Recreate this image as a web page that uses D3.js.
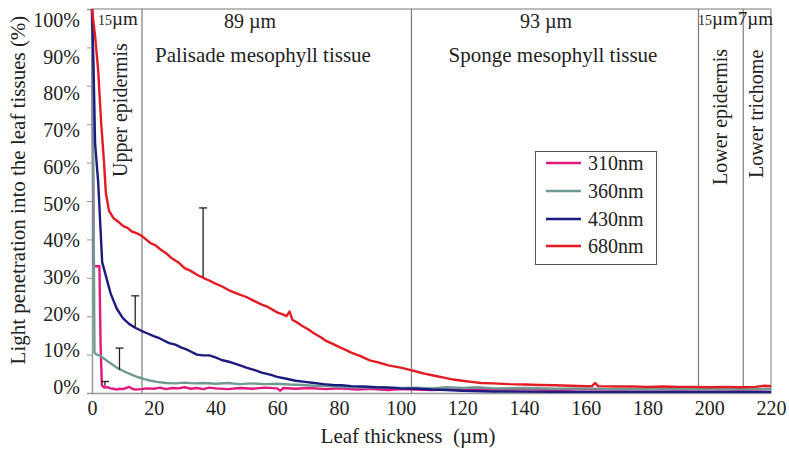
<!DOCTYPE html>
<html><head><meta charset="utf-8">
<script src="https://cdn.jsdelivr.net/npm/d3@7"></script>
<style>
html,body{margin:0;padding:0;background:#fff;}
svg{display:block;}
svg text{font-family:"Liberation Serif","Times New Roman","DejaVu Serif",serif !important;}
</style></head>
<body><svg id="c" width="789" height="451"></svg>
<script>
const xTicks = [0,20,40,60,80,100,120,140,160,180,200,220];
const yTicks = [0,10,20,30,40,50,60,70,80,90,100];
const seriesNames = ["310nm","360nm","430nm","680nm"];
const seriesColors = ["#e3177d","#6f9b95","#1b1b80","#e31b23"];

const s310 = [[0,100],[0.3,60],[0.6,33],[2.4,33],[2.8,12],[3.2,2.0],[4,1.4],[5,1.5],[6,1.2],[7,1.1],[8,0.9],[9,1.1],[10,1.0],[11,1.3],[12,1.6],[13,1.1],[14,0.9],[16,1.0],[18,1.2],[20,1.1],[22,1.4],[24,1.0],[26,1.3],[28,1.2],[30,1.5],[32,1.1],[34,1.3],[36,1.0],[38,1.4],[40,1.2],[44,1.0],[48,1.3],[52,1.1],[56,1.4],[60,1.2],[61,0.6],[62,1.3],[66,1.1],[70,1.3],[76,1.0],[80,1.2],[86,0.9],[90,1.1],[96,0.8],[100,1.0],[110,0.8],[120,1.0],[130,0.9],[140,1.0],[150,0.8],[160,1.0],[170,0.9],[180,1.0],[190,0.9],[200,1.0],[210,0.9],[220,1.0]];
const s360 = [[0,100],[0.5,50],[0.8,10.5],[1.5,10],[2.5,9.8],[3.5,9.2],[5,8.3],[6.5,7.5],[8,6.6],[9.5,6.0],[11,5.4],[13,4.7],[15,4.1],[17,3.6],[19,3.2],[21,2.9],[24,2.6],[27,2.5],[30,2.7],[33,2.5],[36,2.6],[40,2.4],[44,2.6],[48,2.3],[52,2.5],[56,2.3],[60,2.4],[64,2.2],[68,2.1],[72,1.9],[76,1.8],[80,1.6],[85,1.5],[90,1.4],[95,1.5],[100,1.3],[105,1.4],[110,1.2],[115,1.5],[120,1.3],[125,1.5],[130,1.2],[140,1.3],[150,1.1],[160,1.2],[170,1.0],[180,1.1],[190,1.0],[200,1.1],[210,1.0],[220,1.1]];
const s430 = [[0,100],[0.5,85],[1,65],[1.5,60],[2,55],[2.8,42],[3.3,34],[4,32],[5,29],[6,26],[7,24],[8,22],[10,19.5],[12,18],[14,17],[16,16.2],[18,15.5],[20,14.8],[22,14.2],[25,13],[27,12.6],[29,11.8],[31,11.2],[34,10],[36,9.8],[38,9.8],[40,9.3],[42,8.6],[45,8],[48,7.2],[50,6.6],[53,5.9],[55,5.3],[58,4.7],[60,4.2],[63,3.7],[66,3.2],[69,2.9],[72,2.6],[75,2.3],[78,2.1],[81,2.0],[84,1.8],[88,1.7],[92,1.5],[96,1.4],[100,1.2],[105,1.1],[110,0.9],[115,0.8],[120,0.6],[130,0.4],[150,0.3],[180,0.3],[220,0.3]];
const s680 = [[0,100],[1,93],[2,84],[3,70],[3.9,60],[4.5,52],[5.5,47.5],[7,45.5],[8.5,44.6],[10,43.5],[11.5,43],[13,42],[14.5,41.6],[16,41],[17.5,40],[19,39],[20.5,38.5],[22,37.5],[24,36.4],[26,35],[28,34],[30,32.5],[32,31.8],[34,30.8],[36,30],[38,29.3],[40,28.5],[42,27.8],[45,26.5],[47,25.9],[50,25],[52,24.2],[55,23],[57,22.4],[60,21],[62,20.4],[63,20],[64,21.2],[65,19],[66,18.6],[68,17.5],[70,16.6],[72,15.5],[74,14.6],[76,13.5],[78,12.8],[80,12],[82,11.3],[84,10.5],[87,9.6],[90,8.5],[93,7.9],[96,7.2],[100,6.6],[103,6],[106,5.4],[108,5],[111,4.5],[114,4],[117,3.5],[120,3.2],[123,2.9],[126,2.6],[130,2.5],[135,2.3],[140,2.2],[145,2.1],[150,2.0],[155,1.9],[160,1.8],[162,1.8],[163,2.6],[164,1.8],[170,1.7],[175,1.7],[180,1.6],[185,1.7],[190,1.6],[195,1.6],[200,1.5],[205,1.6],[210,1.5],[215,1.6],[218,1.9],[220,1.8]];
const seriesData = [s310, s360, s430, s680];

const errX = [4.2, 8.9, 14, 36];
const errLow = [1.8, 6.0, 16.9, 30.2];
const errHigh = [3.0, 11.7, 25.3, 48.2];

const boundaries = [16.2, 103.5, 196.5, 211];
const layerWidths = ["89 µm", "93 µm"];
const layerNames = ["Palisade mesophyll tissue", "Sponge mesophyll tissue"];

const svg = d3.select("#c");
const x = d3.scaleLinear().domain([0,220]).range([92,771]);
const y = d3.scaleLinear().domain([0,100]).range([393,9]);
const yLab = d3.scaleLinear().domain([0,100]).range([387,20]);
const grid = "#7a7a7a";
const tcol = "#222";

// frame lines
svg.append("line").attr("x1",x(0)).attr("x2",x(220)).attr("y1",y(100)).attr("y2",y(100)).attr("stroke",grid).attr("stroke-width",1.2);
svg.append("line").attr("x1",x(220)).attr("x2",x(220)).attr("y1",y(100)).attr("y2",y(0)).attr("stroke","#a8a8a8").attr("stroke-width",1.5);
boundaries.forEach(b=>{
  svg.append("line").attr("x1",x(b)).attr("x2",x(b)).attr("y1",y(100)).attr("y2",y(0)).attr("stroke",grid).attr("stroke-width",1.2);
});

// y axis: ticks on data scale, labels on label scale
const yAxis = d3.axisLeft(y).tickValues(yTicks).tickFormat("").tickSize(5);
const gy = svg.append("g").attr("transform",`translate(${x(0)},0)`).call(yAxis);
gy.select(".domain").attr("stroke","#999").attr("stroke-width",1.5);
gy.selectAll(".tick line").attr("stroke","#999");
svg.append("g").selectAll("text").data(yTicks).join("text")
  .attr("x",80).attr("y",d=>yLab(d)).attr("dy","0.35em").attr("text-anchor","end")
  .attr("font-size",20).attr("fill",tcol).text(d=>d+"%");

const xAxis = d3.axisBottom(x).tickValues(xTicks).tickSize(0).tickPadding(8);
const gx = svg.append("g").attr("transform",`translate(0,${y(0)})`).call(xAxis);
gx.select(".domain").attr("stroke","#999").attr("stroke-width",1.5);
gx.selectAll("text").attr("font-size",20).attr("fill",tcol);

// series
const line = d3.line().x(d=>x(d[0])).y(d=>y(d[1]));
seriesData.forEach((s,i)=>{
  svg.append("path").datum(s).attr("d",line).attr("fill","none")
    .attr("stroke",seriesColors[i]).attr("stroke-width",2.4).attr("stroke-linejoin","round");
});

// error bars
errX.forEach((ex,i)=>{
  svg.append("line").attr("x1",x(ex)).attr("x2",x(ex)).attr("y1",y(errLow[i])).attr("y2",y(errHigh[i])).attr("stroke","#222").attr("stroke-width",1.3);
  svg.append("line").attr("x1",x(ex)-4).attr("x2",x(ex)+4).attr("y1",y(errHigh[i])).attr("y2",y(errHigh[i])).attr("stroke","#222").attr("stroke-width",1.3);
});

// layer labels
const lt = svg.append("text").attr("x",x(0)+6).attr("y",25).attr("fill",tcol);
lt.append("tspan").attr("font-size",14).text("15");
lt.append("tspan").attr("font-size",19).text("µm");
const rt = svg.append("text").attr("x",698).attr("y",25).attr("fill",tcol);
rt.append("tspan").attr("font-size",14).text("15");
rt.append("tspan").attr("font-size",19).text("µm7µm");

const widthX = [250, 546];
const nameX = [263, 553];
layerWidths.forEach((w,i)=>{
  svg.append("text").attr("x",widthX[i]).attr("y",28).attr("text-anchor","middle").attr("font-size",20).attr("fill",tcol).text(w);
  svg.append("text").attr("x",nameX[i]).attr("y",62).attr("text-anchor","middle").attr("font-size",21).attr("fill",tcol).text(layerNames[i]);
});

function vtext(xx, yy, txt){
  svg.append("text").attr("transform",`translate(${xx},${yy}) rotate(-90)`).attr("font-size",20).attr("fill",tcol).text(txt);
}
vtext(127, 177, "Upper epidermis");
vtext(727, 185, "Lower epidermis");
vtext(763, 178, "Lower trichome");

// axis titles
svg.append("text").attr("x",408).attr("y",443).attr("text-anchor","middle").attr("font-size",21).attr("fill",tcol).attr("xml:space","preserve").text("Leaf thickness  (µm)");
svg.append("text").attr("transform",`translate(25,190) rotate(-90)`).attr("text-anchor","middle").attr("font-size",21).attr("fill",tcol).text("Light penetration into the leaf tissues (%)");

// legend
const lg = svg.append("g");
lg.append("rect").attr("x",535.5).attr("y",151.5).attr("width",121).attr("height",113).attr("fill","#fff").attr("stroke","#555").attr("stroke-width",1);
const legY = [163,191,219,246];
seriesNames.forEach((n,i)=>{
  lg.append("line").attr("x1",546).attr("x2",581).attr("y1",legY[i]).attr("y2",legY[i]).attr("stroke",seriesColors[i]).attr("stroke-width",2.6);
  lg.append("text").attr("x",588).attr("y",legY[i]+7).attr("font-size",20).attr("fill",tcol).text(n);
});
</script></body></html>
